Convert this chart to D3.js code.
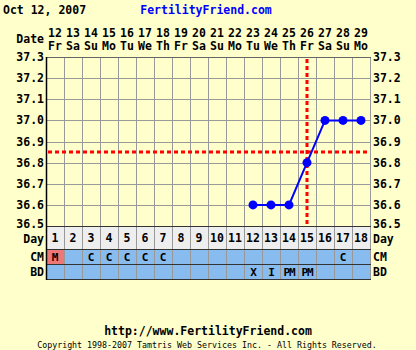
<!DOCTYPE html>
<html>
<head>
<meta charset="utf-8">
<script src="https://cdn.jsdelivr.net/npm/d3@7"></script>
<style>
  body { margin: 0; background: #ffffcc; }
  svg { display: block; }
  text { font-family: "DejaVu Sans Mono", monospace; font-weight: bold; fill: #000; }
</style>
</head>
<body>
<div id="chart"></div>
<script>
// cycle data
const days = d3.range(1, 19);
const dates = [12, 13, 14, 15, 16, 17, 18, 19, 20, 21, 22, 23, 24, 25, 26, 27, 28, 29];
const weekdays = ['Fr', 'Sa', 'Su', 'Mo', 'Tu', 'We', 'Th', 'Fr', 'Sa', 'Su', 'Mo', 'Tu', 'We', 'Th', 'Fr', 'Sa', 'Su', 'Mo'];
const temps = [
  { day: 12, t: 36.6 }, { day: 13, t: 36.6 }, { day: 14, t: 36.6 },
  { day: 15, t: 36.8 }, { day: 16, t: 37.0 }, { day: 17, t: 37.0 }, { day: 18, t: 37.0 }
];
const cm = ['M', '', 'C', 'C', 'C', 'C', 'C', '', '', '', '', '', '', '', '', '', 'C', ''];
const bd = ['', '', '', '', '', '', '', '', '', '', '', 'X', 'I', 'PM', 'PM', '', '', ''];
const yTicks = [36.5, 36.6, 36.7, 36.8, 36.9, 37.0, 37.1, 37.2, 37.3];
const coverline = 36.85;
const ovulationDay = 15;

const W = 416, H = 350;
const pLeft = 46, pRight = 370, pTop = 57, pBottom = 226;
const rowDay = [226, 249], rowCM = [249, 264], rowBD = [264, 279];

const svg = d3.select('#chart').append('svg')
  .attr('width', W).attr('height', H);

svg.append('rect').attr('width', W).attr('height', H).attr('fill', '#ffffcc');

const x = d3.scaleBand().domain(days).range([pLeft, pRight]);
const y = d3.scaleLinear().domain([36.5, 37.3]).range([pBottom, pTop]);
const cx = d => x(d) + x.bandwidth() / 2;

// header
svg.append('text').attr('x', 3).attr('y', 14).attr('font-size', 11.5).text('Oct 12, 2007');
svg.append('text').attr('x', 206).attr('y', 14).attr('font-size', 11.5)
  .attr('text-anchor', 'middle').style('fill', '#0000ff').text('FertilityFriend.com');

// date header
svg.append('text').attr('x', 44).attr('y', 43).attr('font-size', 11.5)
  .attr('text-anchor', 'end').text('Date');
svg.selectAll('.dnum').data(days).enter().append('text')
  .attr('x', d => cx(d)).attr('y', 37).attr('font-size', 11.5)
  .attr('text-anchor', 'middle').text((d, i) => dates[i]);
svg.selectAll('.dwk').data(days).enter().append('text')
  .attr('x', d => cx(d)).attr('y', 50).attr('font-size', 11.5)
  .attr('text-anchor', 'middle').text((d, i) => weekdays[i]);

// row backgrounds
svg.selectAll('.dayBg').data(days).enter().append('rect')
  .attr('x', d => x(d)).attr('y', rowDay[0]).attr('width', x.bandwidth())
  .attr('height', rowDay[1] - rowDay[0]).attr('fill', '#eeeeee');
svg.selectAll('.cmBg').data(days).enter().append('rect')
  .attr('x', d => x(d)).attr('y', rowCM[0]).attr('width', x.bandwidth())
  .attr('height', rowCM[1] - rowCM[0])
  .attr('fill', (d, i) => cm[i] === 'M' ? '#ee7777' : '#88bbee');
svg.selectAll('.bdBg').data(days).enter().append('rect')
  .attr('x', d => x(d)).attr('y', rowBD[0]).attr('width', x.bandwidth())
  .attr('height', rowBD[1] - rowBD[0]).attr('fill', '#88bbee');

// grid
svg.selectAll('.hgrid').data(yTicks).enter().append('line')
  .attr('x1', pLeft).attr('x2', pRight)
  .attr('y1', d => Math.round(y(d)) + 0.5).attr('y2', d => Math.round(y(d)) + 0.5)
  .attr('stroke', '#999').attr('stroke-width', 1);
svg.selectAll('.vgrid').data(days.concat([19])).enter().append('line')
  .attr('x1', d => (d === 19 ? pRight : x(d)) + 0.5).attr('x2', d => (d === 19 ? pRight : x(d)) + 0.5)
  .attr('y1', pTop).attr('y2', rowBD[1])
  .attr('stroke', '#999').attr('stroke-width', 1);

// dark borders
[pTop, pBottom, rowDay[1], rowCM[1], rowBD[1]].forEach(v => {
  svg.append('line').attr('x1', pLeft).attr('x2', pRight + 1)
    .attr('y1', v + 0.5).attr('y2', v + 0.5)
    .attr('stroke', v === pTop ? '#666' : '#333').attr('stroke-width', 1);
});
svg.append('line').attr('x1', pLeft + 0.5).attr('x2', pLeft + 0.5)
  .attr('y1', pTop).attr('y2', rowBD[1] + 1).attr('stroke', '#000').attr('stroke-width', 1.5);

// y axis labels (lowest one nudged up so it clears the Day label)
yTicks.forEach(t => {
  const ty = y(t) + (t === 36.5 ? 2 : 4);
  svg.append('text').attr('x', 44).attr('y', ty).attr('font-size', 11.5)
    .attr('text-anchor', 'end').text(t.toFixed(1));
  svg.append('text').attr('x', 373).attr('y', ty).attr('font-size', 11.5)
    .text(t.toFixed(1));
});

// row labels
const rows = [['Day', rowDay, 5], ['CM', rowCM, 4], ['BD', rowBD, 4]];
rows.forEach(([lab, r, off]) => {
  svg.append('text').attr('x', 44).attr('y', (r[0] + r[1]) / 2 + off).attr('font-size', 11.5)
    .attr('text-anchor', 'end').text(lab);
  svg.append('text').attr('x', 373).attr('y', (r[0] + r[1]) / 2 + off).attr('font-size', 11.5)
    .text(lab);
});
svg.selectAll('.dayNum').data(days).enter().append('text')
  .attr('x', d => cx(d)).attr('y', 242).attr('font-size', 11.5)
  .attr('text-anchor', 'middle').text(d => d);
svg.selectAll('.cmTxt').data(days).enter().append('text')
  .attr('x', d => cx(d)).attr('y', 261).attr('font-size', 11)
  .attr('text-anchor', 'middle').text((d, i) => cm[i]);
svg.selectAll('.bdTxt').data(days).enter().append('text')
  .attr('x', d => cx(d)).attr('y', 276).attr('font-size', 11)
  .attr('text-anchor', 'middle').attr('letter-spacing', -1).text((d, i) => bd[i]);

// coverline and ovulation line
svg.append('line').attr('x1', pLeft + 2).attr('x2', pRight)
  .attr('y1', y(coverline)).attr('y2', y(coverline))
  .attr('stroke', '#ff0000').attr('stroke-width', 3).attr('stroke-dasharray', '4,3');
svg.append('line').attr('x1', cx(ovulationDay)).attr('x2', cx(ovulationDay))
  .attr('y1', pTop + 2).attr('y2', pBottom)
  .attr('stroke', '#ff0000').attr('stroke-width', 3).attr('stroke-dasharray', '4,3');

// temperature line
const line = d3.line().x(d => cx(d.day)).y(d => y(d.t));
svg.append('path').datum(temps).attr('d', line)
  .attr('fill', 'none').attr('stroke', '#0000ff').attr('stroke-width', 2);
svg.selectAll('.pt').data(temps).enter().append('circle')
  .attr('cx', d => cx(d.day)).attr('cy', d => y(d.t)).attr('r', 4.5)
  .attr('fill', '#0000ff');

// footer
svg.append('text').attr('x', 208).attr('y', 335).attr('font-size', 11.5)
  .attr('text-anchor', 'middle').text('http://www.FertilityFriend.com');
svg.append('text').attr('x', 207).attr('y', 348).attr('font-size', 8.3)
  .attr('text-anchor', 'middle').style('font-weight', 'normal')
  .text('Copyright 1998-2007 Tamtris Web Services Inc. - All Rights Reserved.');
</script>
</body>
</html>
